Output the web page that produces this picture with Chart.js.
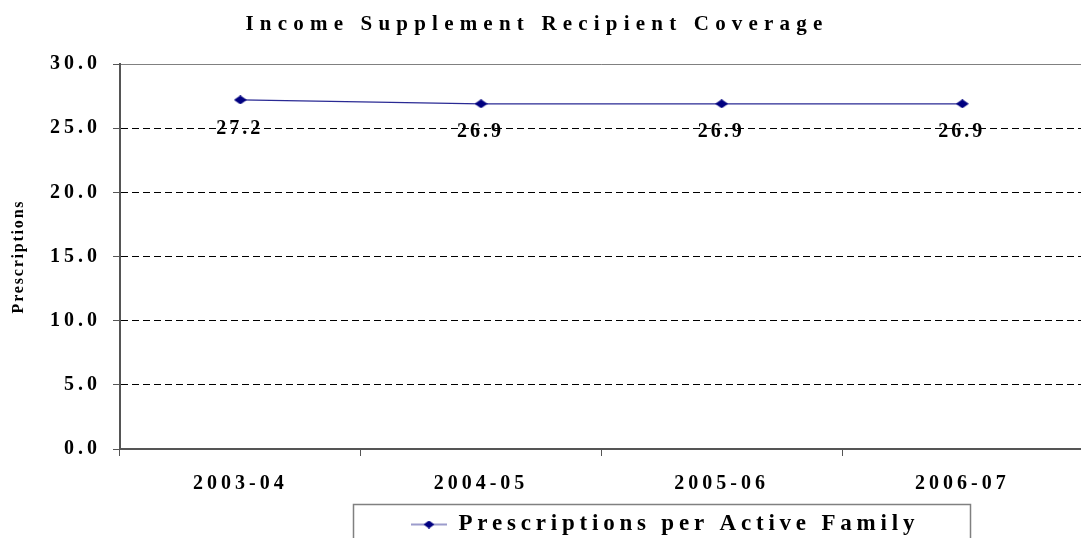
<!DOCTYPE html>
<html>
<head>
<meta charset="utf-8">
<script src="https://cdn.jsdelivr.net/npm/chart.js@4.4.1/dist/chart.umd.min.js"></script>
<style>
  html, body { margin: 0; padding: 0; background: #fff; overflow: hidden; }
  canvas { display: block; }
</style>
</head>
<body>
<canvas id="chart" width="1090" height="546"></canvas>
<script>
const years = ["2003-04", "2004-05", "2005-06", "2006-07"];
const perFamily = [27.2, 26.9, 26.9, 26.9];
const yTicks = [0, 5, 10, 15, 20, 25, 30];

const serif = "'Liberation Serif', 'Times New Roman', serif";
const navy = "#000080";

// flat diamond like the excel marker; with lineLen it becomes the legend sample
function diamond(w, h, lineLen) {
  const c = document.createElement("canvas");
  c.width = lineLen || w;
  c.height = h;
  const t = c.getContext("2d");
  const cx = c.width / 2, cy = h / 2;
  if (lineLen) {
    t.strokeStyle = "#3a3a9a";
    t.lineWidth = 1.2;
    t.beginPath();
    t.moveTo(0, cy);
    t.lineTo(lineLen, cy);
    t.stroke();
  }
  t.fillStyle = navy;
  t.beginPath();
  t.moveTo(cx - w / 2, cy);
  t.lineTo(cx, 0);
  t.lineTo(cx + w / 2, cy);
  t.lineTo(cx, h);
  t.closePath();
  t.fill();
  return c;
}

// canvas letterSpacing, per element (excel drew everything spaced out)
function wrap(obj, name, sp) {
  if (!obj) return;
  const orig = obj[name];
  obj[name] = function () {
    const ctx = this.ctx, prev = ctx.letterSpacing;
    ctx.letterSpacing = sp;
    orig.apply(this, arguments);
    ctx.letterSpacing = prev;
  };
}

const spacing = {
  id: "spacing",
  beforeLayout(chart) {
    chart.ctx.letterSpacing = "4px";
  },
  afterLayout(chart) {
    const t = chart.titleBlock;
    t.left -= 8;
    t.right -= 8;
    const lg = chart.legend;
    lg.left = 411 - lg.options.labels.padding;
  },
  beforeDraw(chart) {
    chart.ctx.letterSpacing = "4px";
    if (!chart.$wrapped) {
      chart.$wrapped = true;
      wrap(chart.titleBlock, "draw", "6.2px");
      wrap(chart.legend, "draw", "4.8px");
      wrap(chart.scales.y, "drawTitle", "1.8px");
    }
  },
  afterDraw(chart) {
    const ctx = chart.ctx;
    ctx.save();
    ctx.strokeStyle = "#808080";
    ctx.lineWidth = 1.5;
    ctx.strokeRect(353.5, 504.5, 617, 60);
    ctx.restore();
  },
};

const valueLabels = {
  id: "valueLabels",
  afterDatasetsDraw(chart) {
    const ctx = chart.ctx;
    const meta = chart.getDatasetMeta(0);
    ctx.save();
    ctx.font = "bold 20px " + serif;
    ctx.letterSpacing = "3px";
    ctx.fillStyle = "#000";
    ctx.textAlign = "center";
    ctx.textBaseline = "middle";
    meta.data.forEach((pt, i) => {
      ctx.fillText(perFamily[i].toFixed(1), pt.x - 0.5, pt.y + 28.5);
    });
    ctx.restore();
  },
};

new Chart(document.getElementById("chart"), {
  type: "line",
  data: {
    labels: years,
    datasets: [
      {
        label: "Prescriptions per Active Family",
        data: perFamily,
        borderColor: "#2a2a94",
        backgroundColor: navy,
        borderWidth: 1.3,
        tension: 0,
        pointStyle: diamond(13, 9),
        pointRadius: 6,
        pointHoverRadius: 6,
      },
    ],
  },
  options: {
    responsive: false,
    animation: false,
    layout: { padding: 0 },
    plugins: {
      tooltip: { enabled: false },
      title: {
        display: true,
        text: "Income Supplement Recipient Coverage",
        color: "#000",
        font: { family: serif, size: 21, weight: "bold", lineHeight: 1.2 },
        padding: { top: 12, bottom: 26.8 },
      },
      legend: {
        position: "bottom",
        align: "start",
        labels: {
          color: "#000",
          font: { family: serif, size: 23, weight: "bold" },
          usePointStyle: true,
          pointStyle: diamond(11, 8, 36),
          pointStyleWidth: 36,
          padding: 9,
        },
      },
    },
    scales: {
      x: {
        offset: true,
        afterFit: (s) => { s.height = 55; },
        grid: {
          offset: true,
          drawOnChartArea: false,
          drawTicks: true,
          tickLength: 7,
          color: "#555",
        },
        border: { display: true, color: "#555", width: 2 },
        ticks: {
          color: "#000",
          font: { family: serif, size: 20, weight: "bold" },
          padding: 16,
          maxRotation: 0,
        },
      },
      y: {
        min: 0,
        max: 30,
        afterFit: (s) => { s.width = 120; },
        afterBuildTicks: (s) => { s.ticks = yTicks.map((v) => ({ value: v })); },
        grid: {
          color: (c) => (c.tick && c.tick.value === 30 ? "#808080" : "#000"),
          tickColor: "#555",
          tickLength: 7,
          lineWidth: 1,
        },
        border: {
          display: true,
          color: "#555",
          width: 2,
          dash: (c) => (c.tick && c.tick.value === 30 ? [] : [7, 4]),
        },
        ticks: {
          color: "#000",
          font: { family: serif, size: 20, weight: "bold" },
          padding: 12,
          callback: (v) => Number(v).toFixed(1),
        },
        title: {
          display: true,
          text: "Prescriptions",
          color: "#000",
          font: { family: serif, size: 16, weight: "bold", lineHeight: 1.2 },
          padding: { top: 9, bottom: 0 },
        },
      },
    },
  },
  plugins: [spacing, valueLabels],
});
</script>
</body>
</html>
